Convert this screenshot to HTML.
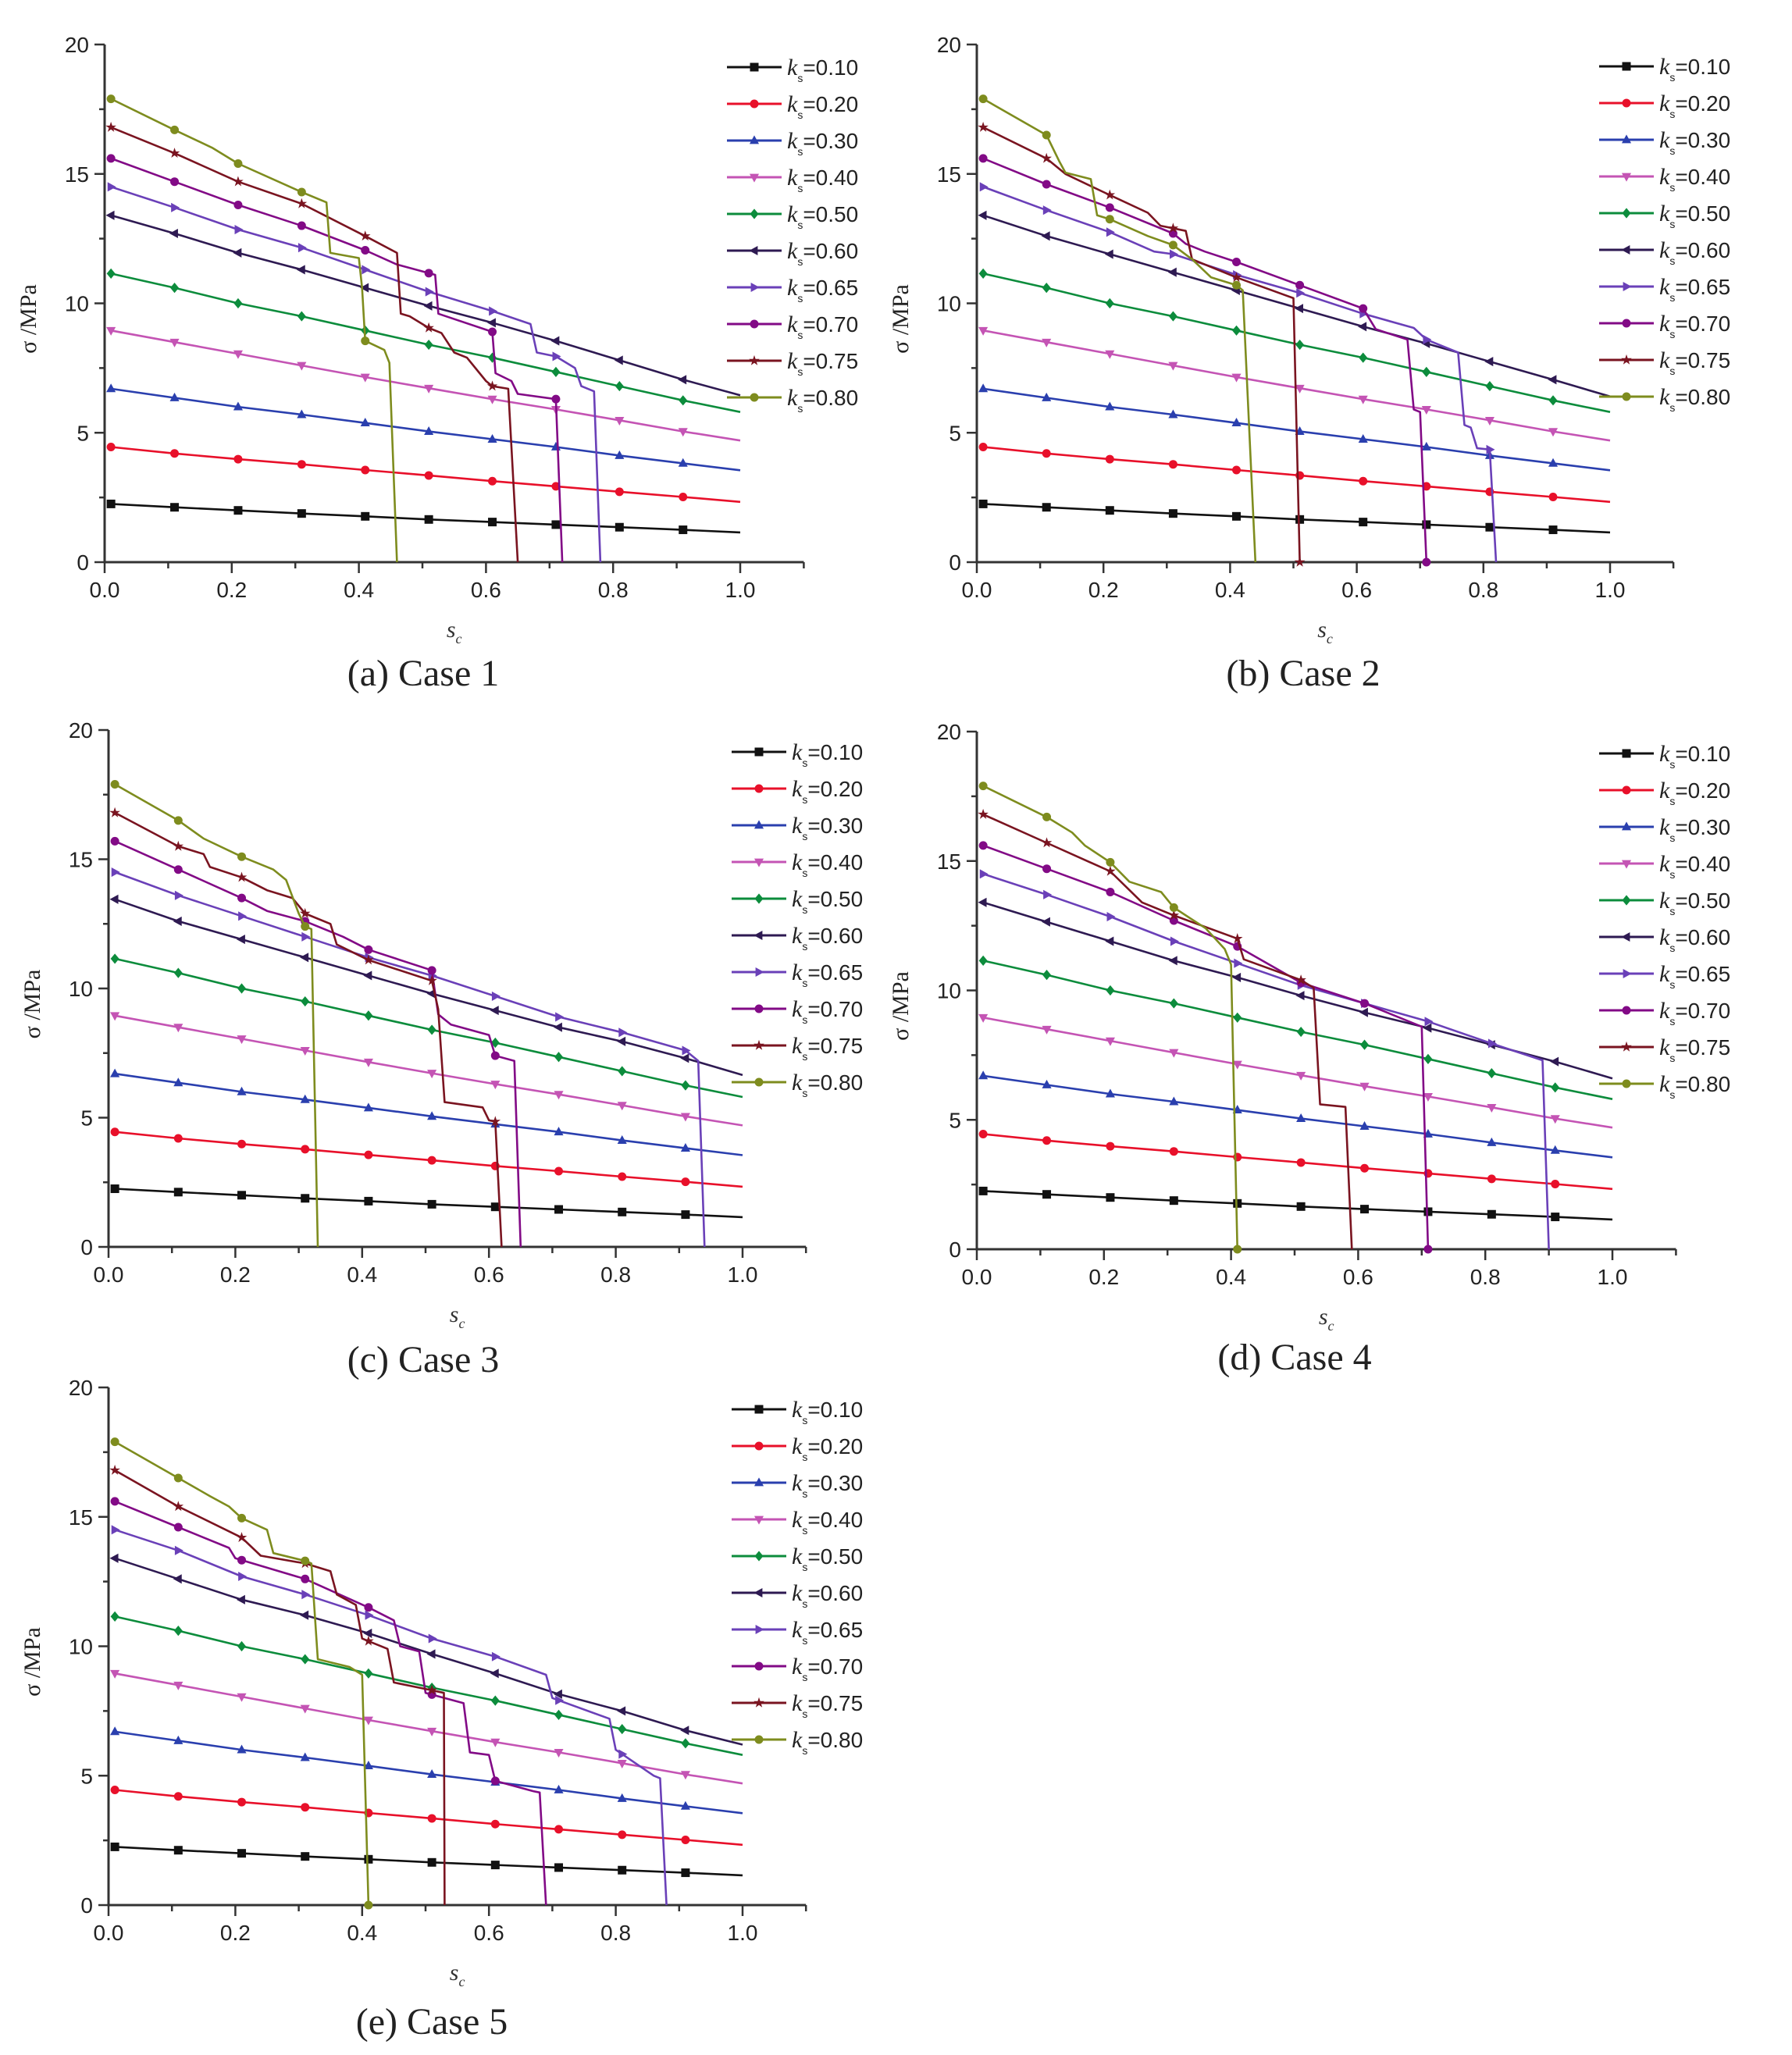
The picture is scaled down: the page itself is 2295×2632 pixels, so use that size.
<!DOCTYPE html>
<html><head><meta charset="utf-8"><title>Stress vs s_c for five cases</title>
<style>html,body{margin:0;padding:0;background:#fff;}svg{display:block;}</style></head>
<body>
<svg id="fig" width="2295" height="2632" viewBox="0 0 2295 2632" xmlns="http://www.w3.org/2000/svg"></svg>
<script>
// ---------- data ----------
const kLabels = ["0.10","0.20","0.30","0.40","0.50","0.60","0.65","0.70","0.75","0.80"];
const seriesColors = ["#111111","#e8102a","#2a3fae","#c454b4","#0c8c3c","#2e1a52","#6a40b8","#820a86","#7a1420","#7e8c1e"];
const markerShapes = ["square","circle","tri-up","tri-down","diamond","tri-left","tri-right","circle","star","circle"];
const markerX = [0.01,0.11,0.21,0.31,0.41,0.51,0.61,0.71,0.81,0.91];
const gridX = [0.01,0.11,0.21,0.31,0.41,0.51,0.61,0.71,0.81,0.91,1.0];
const k010Y = [2.25,2.12,2.0,1.88,1.77,1.65,1.55,1.45,1.35,1.25,1.15];
const k020Y = [4.45,4.2,3.98,3.78,3.56,3.35,3.13,2.93,2.72,2.52,2.33];
const k030Y = [6.7,6.35,6.0,5.7,5.38,5.05,4.75,4.45,4.12,3.82,3.55];
const k040Y = [8.95,8.5,8.05,7.6,7.15,6.72,6.3,5.9,5.48,5.05,4.7];
const k050Y = [11.15,10.6,10.0,9.5,8.95,8.4,7.9,7.35,6.8,6.25,5.8];
const case1K060 = [13.4,12.7,11.95,11.3,10.6,9.9,9.25,8.55,7.8,7.05,6.45];
const case2K060 = [13.4,12.6,11.9,11.2,10.5,9.8,9.1,8.45,7.75,7.05,6.4];
const case3K060 = [13.45,12.6,11.9,11.2,10.5,9.8,9.15,8.5,7.95,7.3,6.65];
const case4K060 = [13.4,12.65,11.9,11.15,10.5,9.8,9.15,8.55,7.9,7.25,6.6];
const case5K060 = [13.4,12.6,11.8,11.2,10.5,9.7,8.95,8.15,7.5,6.75,6.2];
// high-k curves per case: [k0.65, k0.70, k0.75, k0.80], each a list of [s_c, sigma]
const case1High = [
 [[0.01,14.5],[0.11,13.7],[0.21,12.85],[0.31,12.15],[0.41,11.3],[0.51,10.45],[0.61,9.7],[0.67,9.2],[0.68,8.1],[0.71,7.95],[0.74,7.5],[0.75,6.8],[0.77,6.6],[0.78,0]],
 [[0.01,15.6],[0.11,14.7],[0.21,13.8],[0.31,13.0],[0.41,12.05],[0.46,11.5],[0.52,11.1],[0.525,9.6],[0.61,8.9],[0.615,7.3],[0.64,7.0],[0.65,6.5],[0.71,6.3],[0.72,0]],
 [[0.01,16.8],[0.11,15.8],[0.21,14.7],[0.31,13.85],[0.41,12.6],[0.46,11.95],[0.466,9.6],[0.48,9.5],[0.51,9.05],[0.53,8.85],[0.55,8.1],[0.57,7.9],[0.6,7.0],[0.61,6.8],[0.635,6.7],[0.65,0]],
 [[0.01,17.9],[0.11,16.7],[0.17,16.0],[0.21,15.4],[0.31,14.3],[0.349,13.9],[0.355,11.95],[0.40,11.75],[0.405,10.6],[0.41,8.55],[0.44,8.2],[0.448,7.7],[0.46,0]]
];
const case2High = [
 [[0.01,14.5],[0.11,13.6],[0.21,12.75],[0.28,12.0],[0.31,11.9],[0.41,11.1],[0.51,10.4],[0.61,9.6],[0.69,9.05],[0.71,8.6],[0.76,8.1],[0.77,5.3],[0.78,5.2],[0.79,4.4],[0.81,4.35],[0.82,0]],
 [[0.01,15.6],[0.11,14.6],[0.21,13.7],[0.31,12.7],[0.33,12.3],[0.36,12.0],[0.41,11.6],[0.51,10.7],[0.61,9.8],[0.63,9.0],[0.68,8.6],[0.69,5.9],[0.70,5.8],[0.71,0]],
 [[0.01,16.8],[0.11,15.6],[0.14,15.0],[0.20,14.3],[0.27,13.5],[0.29,13.0],[0.33,12.8],[0.34,11.7],[0.41,11.0],[0.50,10.2],[0.51,0]],
 [[0.01,17.9],[0.11,16.5],[0.13,15.5],[0.14,15.05],[0.18,14.8],[0.19,13.4],[0.21,13.25],[0.27,12.6],[0.31,12.25],[0.34,11.7],[0.37,11.0],[0.41,10.7],[0.42,10.5],[0.44,0]]
];
const case3High = [
 [[0.01,14.5],[0.11,13.6],[0.21,12.8],[0.31,12.0],[0.41,11.2],[0.51,10.5],[0.61,9.7],[0.71,8.9],[0.81,8.3],[0.91,7.6],[0.93,7.2],[0.94,0]],
 [[0.01,15.7],[0.11,14.6],[0.21,13.5],[0.25,13.0],[0.31,12.6],[0.37,12.0],[0.41,11.5],[0.51,10.7],[0.52,9.0],[0.54,8.6],[0.60,8.2],[0.61,7.4],[0.64,7.2],[0.65,0]],
 [[0.01,16.8],[0.11,15.5],[0.15,15.2],[0.16,14.7],[0.21,14.3],[0.25,13.8],[0.29,13.5],[0.31,12.9],[0.35,12.5],[0.36,11.7],[0.41,11.1],[0.51,10.3],[0.52,9.2],[0.53,5.6],[0.59,5.4],[0.60,4.9],[0.61,4.85],[0.62,0]],
 [[0.01,17.9],[0.11,16.5],[0.15,15.8],[0.21,15.1],[0.26,14.6],[0.28,14.2],[0.30,12.9],[0.31,12.4],[0.32,12.3],[0.33,0]]
];
const case4High = [
 [[0.01,14.5],[0.11,13.7],[0.21,12.85],[0.31,11.9],[0.41,11.05],[0.51,10.2],[0.61,9.5],[0.71,8.8],[0.81,7.95],[0.89,7.3],[0.90,0]],
 [[0.01,15.6],[0.11,14.7],[0.21,13.8],[0.31,12.7],[0.41,11.7],[0.51,10.3],[0.61,9.5],[0.70,8.6],[0.71,0]],
 [[0.01,16.8],[0.11,15.7],[0.21,14.6],[0.26,13.4],[0.31,12.9],[0.41,12.0],[0.42,11.2],[0.51,10.4],[0.53,10.1],[0.54,5.6],[0.58,5.5],[0.59,0]],
 [[0.01,17.9],[0.11,16.7],[0.15,16.1],[0.17,15.6],[0.21,14.95],[0.24,14.2],[0.29,13.8],[0.31,13.2],[0.36,12.4],[0.39,11.6],[0.40,11.0],[0.41,0]]
];
const case5High = [
 [[0.01,14.5],[0.11,13.7],[0.21,12.7],[0.31,12.0],[0.41,11.2],[0.51,10.3],[0.61,9.6],[0.69,8.9],[0.70,8.0],[0.79,7.2],[0.80,6.0],[0.86,5.0],[0.87,4.9],[0.88,0]],
 [[0.01,15.6],[0.11,14.6],[0.19,13.8],[0.20,13.4],[0.31,12.6],[0.41,11.5],[0.45,11.0],[0.46,10.0],[0.49,9.8],[0.50,8.2],[0.56,7.8],[0.57,5.9],[0.60,5.8],[0.61,4.8],[0.67,4.4],[0.68,4.35],[0.69,0]],
 [[0.01,16.8],[0.11,15.4],[0.21,14.2],[0.24,13.5],[0.31,13.2],[0.35,12.9],[0.36,12.0],[0.39,11.6],[0.40,10.3],[0.41,10.2],[0.44,9.9],[0.45,8.6],[0.51,8.3],[0.529,8.2],[0.53,0]],
 [[0.01,17.9],[0.11,16.5],[0.16,15.8],[0.19,15.4],[0.21,14.95],[0.25,14.5],[0.26,13.6],[0.31,13.3],[0.32,13.2],[0.33,9.5],[0.38,9.2],[0.40,8.9],[0.41,0]]
];
const yTicks = [0,5,10,15,20];
const xTicks = ["0.0","0.2","0.4","0.6","0.8","1.0"];
const caseTitles = ["(a) Case 1","(b) Case 2","(c) Case 3","(d) Case 4","(e) Case 5"];

// ---------- layout ----------
const panels = [
 {x0:134,x1:948,y0:720,y20:57,lx:931,ly:86,cx:542,cy:878,k60:case1K060,high:case1High},
 {x0:1251,x1:2062,y0:720,y20:57,lx:2048,ly:85,cx:1669,cy:878,k60:case2K060,high:case2High},
 {x0:139,x1:951,y0:1597,y20:935,lx:937,ly:963,cx:542,cy:1757,k60:case3K060,high:case3High},
 {x0:1251,x1:2065,y0:1600,y20:937,lx:2048,ly:965,cx:1658,cy:1754,k60:case4K060,high:case4High},
 {x0:139,x1:951,y0:2440,y20:1777,lx:937,ly:1805,cx:553,cy:2605,k60:case5K060,high:case5High}
];
const NS="http://www.w3.org/2000/svg";
const svg=document.getElementById('fig');
function mk(tag,attrs,parent){const e=document.createElementNS(NS,tag);for(const k in attrs)e.setAttribute(k,attrs[k]);(parent||svg).appendChild(e);return e;}

function markerPath(shape,x,y,r){
  if(shape==="square") return `M${x-r},${y-r}h${2*r}v${2*r}h${-2*r}Z`;
  if(shape==="circle"){return `M${x-r},${y}a${r},${r} 0 1,0 ${2*r},0a${r},${r} 0 1,0 ${-2*r},0Z`;}
  if(shape==="tri-up") return `M${x},${y-r*1.2}L${x+r*1.1},${y+r*0.8}L${x-r*1.1},${y+r*0.8}Z`;
  if(shape==="tri-down") return `M${x},${y+r*1.2}L${x+r*1.1},${y-r*0.8}L${x-r*1.1},${y-r*0.8}Z`;
  if(shape==="tri-left") return `M${x-r*1.2},${y}L${x+r*0.8},${y-r*1.1}L${x+r*0.8},${y+r*1.1}Z`;
  if(shape==="tri-right") return `M${x+r*1.2},${y}L${x-r*0.8},${y-r*1.1}L${x-r*0.8},${y+r*1.1}Z`;
  if(shape==="diamond") return `M${x},${y-r*1.2}L${x+r},${y}L${x},${y+r*1.2}L${x-r},${y}Z`;
  // star
  let d="";for(let i=0;i<10;i++){const a=-Math.PI/2+i*Math.PI/5;const rr=i%2?r*0.5:r*1.3;d+=(i?"L":"M")+(x+rr*Math.cos(a)).toFixed(1)+","+(y+rr*Math.sin(a)).toFixed(1);}return d+"Z";
}
function interp(pts,x){
  for(let i=0;i<pts.length-1;i++){const a=pts[i],b=pts[i+1];if(x>=a[0]&&x<=b[0]){if(b[0]===a[0])return a[1];return a[1]+(b[1]-a[1])*(x-a[0])/(b[0]-a[0]);}}
  return null;
}

panels.forEach((p,pi)=>{
  const g=mk('g',{});
  
  
  const sx=v=>p.x0+v*(p.x1-p.x0);
  const sy=v=>p.y0-v/20*(p.y0-p.y20);
  const xEnd=sx(1.1);
  // axes
  const ax=mk('path',{d:`M${p.x0},${p.y20}V${p.y0}H${xEnd}`,fill:'none',stroke:'#333',"stroke-width":3},g);
  
  
  // y ticks
  for(let v=0;v<=20;v+=2.5){const y=sy(v);const len=(v%5===0)?13:7;mk('line',{x1:p.x0-len,y1:y,x2:p.x0,y2:y,stroke:'#333',"stroke-width":2.5},g);}
  yTicks.forEach(v=>{const t=mk('text',{x:p.x0-20,y:sy(v)+10,"text-anchor":"end","font-family":"Liberation Sans, sans-serif","font-size":28,fill:'#222'},g);t.textContent=String(v);
    
    });
  // x ticks
  for(let i=0;i<=11;i++){const v=i/10;const x=sx(v);const len=(i%2===0)?14:8;mk('line',{x1:x,y1:p.y0,x2:x,y2:p.y0+len,stroke:'#333',"stroke-width":2.5},g);}
  xTicks.forEach((s,i)=>{const t=mk('text',{x:sx(i*0.2),y:p.y0+45,"text-anchor":"middle","font-family":"Liberation Sans, sans-serif","font-size":28,fill:'#222'},g);t.textContent=s;
    
    });
  // axis titles
  const xt=mk('text',{x:sx(0.55),y:p.y0+96,"text-anchor":"middle","font-family":"Liberation Serif, serif","font-size":30,"font-style":"italic",fill:'#333'},g);
  xt.innerHTML='s<tspan font-size="18" dy="8">c</tspan>';
  
  
  const ym=(p.y0+p.y20)/2+20;
  const yt=mk('text',{x:p.x0-88,y:ym,"text-anchor":"middle","font-family":"Liberation Serif, serif","font-size":30,fill:'#222',transform:`rotate(-90 ${p.x0-88} ${ym})`},g);
  yt.textContent='σ /MPa';
  
  
  // caption
  const cap=mk('text',{x:p.cx,y:p.cy,"text-anchor":"middle","font-family":"Liberation Serif, serif","font-size":48,fill:'#222'},g);
  cap.textContent=caseTitles[pi];
  
  
  // series
  const lowSets=[k010Y,k020Y,k030Y,k040Y,k050Y,p.k60];
  const allPts=[];
  lowSets.forEach(arr=>allPts.push(gridX.map((x,i)=>[x,arr[i]])));
  p.high.forEach(h=>allPts.push(h));
  allPts.forEach((pts,si)=>{
    const sg=mk('g',{},g);
    
    
    const d=pts.map((q,i)=>(i?'L':'M')+sx(q[0]).toFixed(1)+','+sy(q[1]).toFixed(1)).join('');
    mk('path',{d:d,fill:'none',stroke:seriesColors[si],"stroke-width":2.6,"stroke-linejoin":"round"},sg);
    markerX.forEach(mx=>{const v=interp(pts,mx);if(v===null)return;
      const m=mk('path',{d:markerPath(markerShapes[si],sx(mx),sy(v),5.5),fill:seriesColors[si]},sg);
      
      });
  });
  // legend
  const lg=mk('g',{},g);
  
  
  kLabels.forEach((k,si)=>{
    const y=p.ly+si*47;
    const e=mk('g',{},lg);
    
    
    mk('line',{x1:p.lx,y1:y,x2:p.lx+70,y2:y,stroke:seriesColors[si],"stroke-width":3},e);
    mk('path',{d:markerPath(markerShapes[si],p.lx+35,y,5.5),fill:seriesColors[si]},e);
    const t=mk('text',{x:p.lx+77,y:y+10,"font-family":"Liberation Sans, sans-serif","font-size":28,fill:'#222'},e);
    t.innerHTML='<tspan font-family="Liberation Serif, serif" font-style="italic" font-size="30">k</tspan><tspan font-size="14" dy="9">s</tspan><tspan dy="-9">='+k+'</tspan>';
  });
});
</script>
</body></html>
